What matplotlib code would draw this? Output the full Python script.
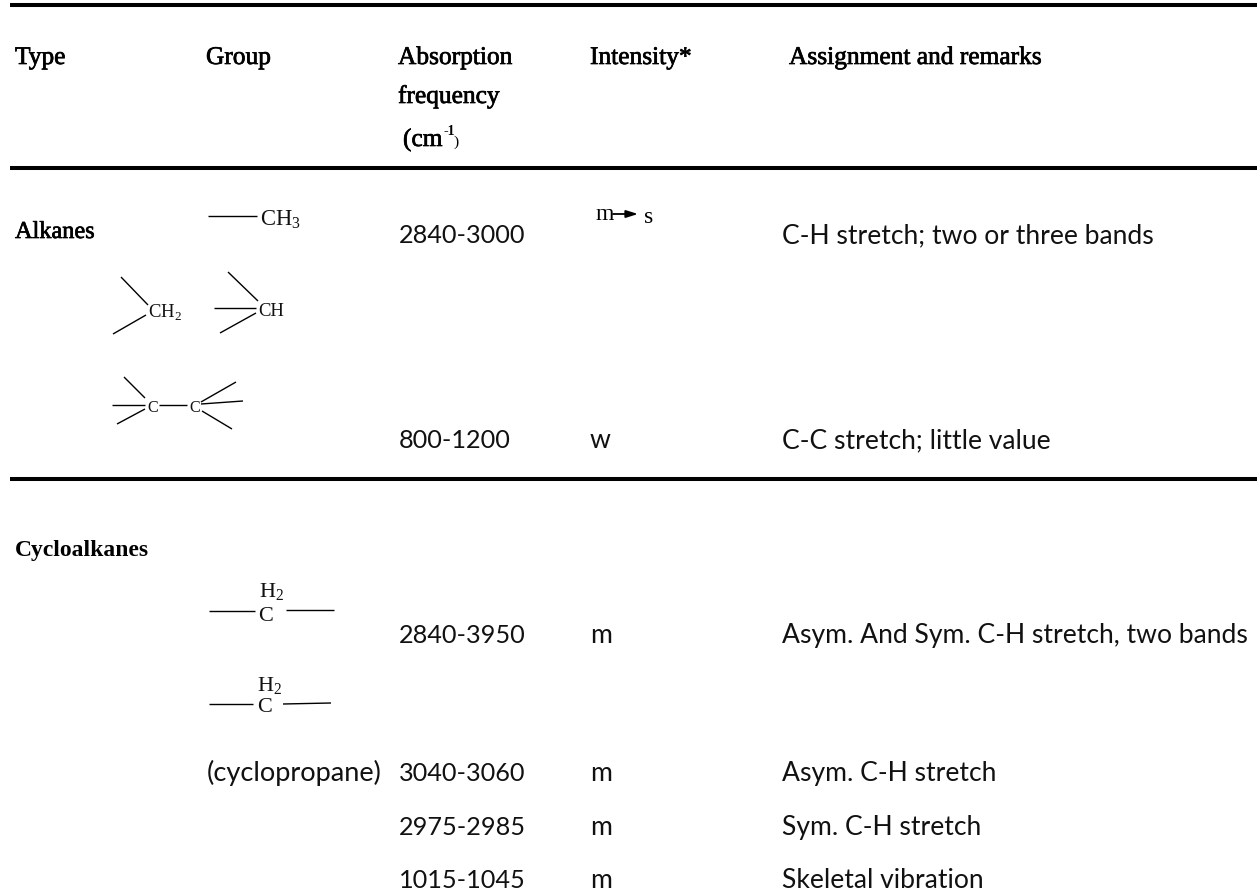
import matplotlib
matplotlib.use("Agg")
import matplotlib.pyplot as plt
import matplotlib.patheffects as pe

W, H = 1257, 892

plt.rcParams['mathtext.fontset'] = 'custom'
plt.rcParams['mathtext.rm'] = 'Liberation Serif'

SERIF = 'Liberation Serif'
BODY = 'Lato'

# table content
headers = ['Type', 'Group', 'Absorption', 'Intensity*', 'Assignment and remarks']
header_x = [15, 206, 398, 590, 789]
frequencies = ['2840-3000', '800-1200', '2840-3950', '3040-3060', '2975-2985', '1015-1045']
intensities = ['', 'w', 'm', 'm', 'm', 'm']
remarks = ['C-H stretch; two or three bands', 'C-C stretch; little value',
           'Asym. And Sym. C-H stretch, two bands', 'Asym. C-H stretch',
           'Sym. C-H stretch', 'Skeletal vibration']
row_baselines = [243, 448, 643, 781, 835, 888]

rule_y = [5, 168, 479]

# bonds of the drawn structures, in image pixels
bonds = [
    ((208, 257), (216, 216)),
    ((121, 148), (277, 305)), ((113, 146), (334, 315)),
    ((228, 258), (272, 301)), ((214, 256), (308, 308)), ((220, 256), (333, 313)),
    ((124, 145), (377, 398)), ((112, 145), (405, 405)), ((117, 145), (424, 409)),
    ((159, 187), (405, 405)),
    ((201, 236), (402, 382)), ((201, 243), (404, 401)), ((202, 232), (411, 429)),
    ((209, 255), (611, 611)), ((286, 334), (610, 610)),
    ((209, 253), (704, 704)), ((283, 331), (704, 703)),
]
# label, x, baseline, size
atoms = [
    (r'CH$_{\mathrm{3}}$', 260, 225, 16.3),
    (r'CH$_{\mathrm{2}}$', 148, 318, 13.4),
    ('CH', 258, 316, 13.4),
    ('C', 147, 412, 11.6),
    ('C', 189, 412, 11.6),
    (r'H$_{\mathrm{2}}$', 259, 597, 16),
    ('C', 258, 621, 16),
    (r'H$_{\mathrm{2}}$', 257, 691, 16),
    ('C', 257, 712, 16),
]


def bold_text(ax, x, y, s, size=18.3):
    # the headings are smeared regular Times, so stroke the regular face
    t = ax.text(x, y, s, family=SERIF, fontsize=size, va='baseline', ha='left', color='black')
    t.set_path_effects([pe.withStroke(linewidth=0.5, foreground='black')])
    return t


def main():
    fig = plt.figure(figsize=(W / 100, H / 100), dpi=100)
    ax = fig.add_axes([0, 0, 1, 1])
    ax.set_xlim(0, W)
    ax.set_ylim(H, 0)
    ax.axis('off')

    for y in rule_y:
        ax.plot([10, W], [y, y], color='black', lw=2.9, solid_capstyle='butt')

    # header row
    for x, s in zip(header_x, headers):
        bold_text(ax, x, 64, s)
    bold_text(ax, 398, 103, 'frequency')
    bold_text(ax, 403, 146, '(cm')
    ax.text(443, 135, '-1', family=SERIF, fontsize=10, fontweight='bold', va='baseline')
    ax.text(453, 146, ')', family=SERIF, fontsize=11, va='baseline')

    # section labels
    bold_text(ax, 15, 238, 'Alkanes', size=17.5)
    ax.text(15, 556, 'Cycloalkanes', family=SERIF, fontsize=17, fontweight='bold', va='baseline')

    # body rows
    for y, f, i, r in zip(row_baselines, frequencies, intensities, remarks):
        ax.text(399, y, f, family=BODY, fontsize=18.2, va='baseline', color='#111111')
        ax.text(590, y, i, family=BODY, fontsize=19.2, va='baseline', color='#111111')
        ax.text(782, y, r, family=BODY, fontsize=19.1, va='baseline', color='#111111')
    ax.text(207, row_baselines[3], '(cyclopropane)', family=BODY, fontsize=19.6, va='baseline', color='#111111')

    # m -> s
    ax.text(595, 220, 'm', family=SERIF, fontsize=17, va='baseline')
    ax.annotate('', xy=(638, 214), xytext=(613, 214),
                arrowprops=dict(arrowstyle='-|>,head_length=0.7,head_width=0.22', color='black', lw=1.3,
                                shrinkA=0, shrinkB=0))
    ax.text(644, 223, 's', family=SERIF, fontsize=17, va='baseline')

    # structures
    for xs, ys in bonds:
        ax.plot(xs, ys, color='black', lw=1.0, solid_capstyle='butt')
    for s, x, y, size in atoms:
        ax.text(x, y, s, family=SERIF, fontsize=size, va='baseline', ha='left', color='#111111')

    fig.savefig('out.png', dpi=100)


if __name__ == "__main__":
    main()
